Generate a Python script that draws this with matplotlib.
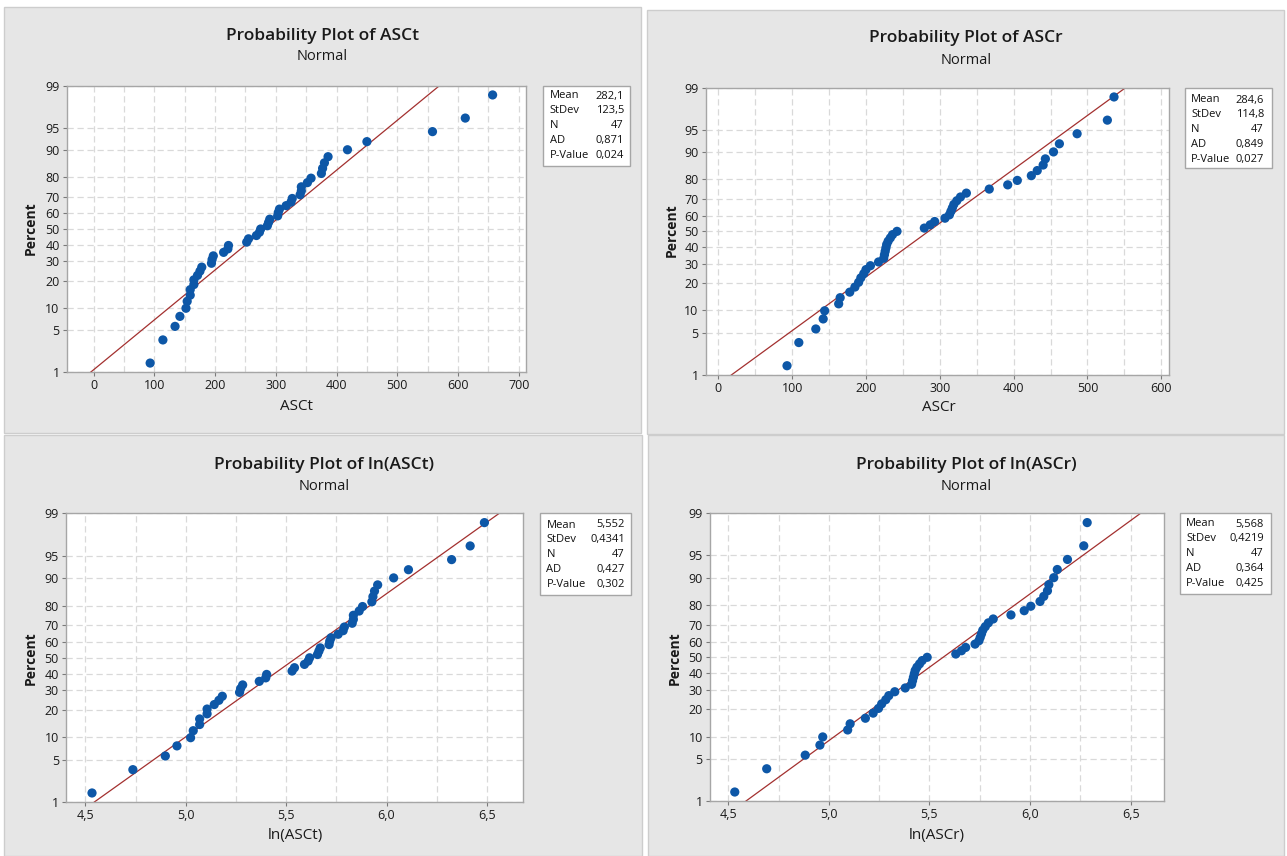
# Probability plots (normal) of ASCt, ASCr and their logs, Minitab style
import numpy as np
import matplotlib.pyplot as plt
from matplotlib.patches import Rectangle
from statistics import NormalDist

plt.rcParams['font.family'] = ['Open Sans', 'DejaVu Sans']

W, H = 1287, 856

asct = [93, 114, 134, 142, 152, 154, 159, 159, 165, 165, 171, 175, 178, 194, 195, 197,
        214, 221, 222, 252, 255, 268, 273, 275, 286, 288, 290, 303, 304, 306, 317, 325,
        327, 340, 342, 342, 352, 358, 375, 377, 380, 386, 418, 450, 558, 612, 657]
ascr = [93, 109, 132, 142, 144, 163, 165, 178, 185, 190, 193, 197, 200, 206, 217, 224,
        225, 226, 227, 228, 230, 233, 236, 242, 279, 287, 293, 307, 313, 315, 317, 319,
        323, 328, 336, 367, 392, 405, 424, 432, 440, 443, 454, 462, 486, 527, 536]

titles = ['Probability Plot of ASCt', 'Probability Plot of ASCr',
          'Probability Plot of ln(ASCt)', 'Probability Plot of ln(ASCr)']
xlabels = ['ASCt', 'ASCr', 'ln(ASCt)', 'ln(ASCr)']
means = [282.1, 284.6, 5.552, 5.568]
stdevs = [123.5, 114.8, 0.4341, 0.4219]
ns = [47, 47, 47, 47]
ads = [0.871, 0.849, 0.427, 0.364]
pvals = [0.024, 0.027, 0.302, 0.425]
mean_dec = [1, 1, 3, 3]
sd_dec = [1, 1, 4, 4]

pct_ticks = [1, 5, 10, 20, 30, 40, 50, 60, 70, 80, 90, 95, 99]
xticks_raw = [0, 100, 200, 300, 400, 500, 600, 700]
xticks_ln = [4.5, 5.0, 5.5, 6.0, 6.5]

# pixel layout: panel box, axes box (left, top, right, bottom)
panels = [(4, 7, 641, 433), (647, 10, 1284, 434), (4, 435, 642, 856), (648, 435, 1284, 856)]
axboxes = [(66.6, 85.7, 526, 372.3), (705.6, 87.7, 1169, 375),
           (65.8, 513.3, 523, 802.3), (709.7, 513.3, 1164, 801.3)]
xlims = [(-44.6, 712), (-17.3, 610.5), (4.402, 6.680), (4.408, 6.666)]
statboxes = [(543, 86, 630, 166, 549.5, 624, 96),
             (1185, 88, 1272, 168, 1191, 1264, 100),
             (540, 513, 631, 595, 546.5, 625, 525),
             (1180, 513, 1271, 594, 1186, 1264, 524)]
title_pos = [(322, 36, 57), (966, 38.5, 61), (324, 464.5, 486.5), (966, 464.5, 486)]
ylab_pos = [(31, 228), (672, 230), (31, 658), (675, 658)]
xlab_pos = [(297, 407), (939, 408), (295, 836), (937, 836)]


def fx(x):
    return x / W


def fy(y):
    return 1 - y / H


def comma(v, d):
    return f"{v:.{d}f}".replace('.', ',')


nd = NormalDist()
fig = plt.figure(figsize=(W / 100, H / 100), dpi=100)
fig.patch.set_facecolor('white')

datasets = [asct, ascr, list(np.log(asct)), list(np.log(ascr))]

for k in range(4):
    l, t, r, b = panels[k]
    fig.patches.append(Rectangle((fx(l), fy(b)), (r - l) / W, (b - t) / H,
                                 transform=fig.transFigure, fc='#e6e6e6',
                                 ec='#cdcdcd', lw=1, zorder=-10))
    al, at, ar, ab = axboxes[k]
    ax = fig.add_axes([fx(al), fy(ab), (ar - al) / W, (ab - at) / H])
    ax.set_zorder(5)
    ax.set_facecolor('white')

    vals = np.sort(datasets[k])
    n = len(vals)
    p = (np.arange(1, n + 1) - 0.3) / (n + 0.4)
    z = np.array([nd.inv_cdf(pp) for pp in p])
    zl = np.array([nd.inv_cdf(0.01), nd.inv_cdf(0.99)])

    ax.plot(means[k] + stdevs[k] * zl, zl, color='#a3302f', lw=0.9, zorder=2)
    ax.scatter(vals, z, s=44, color='#0d57a7', edgecolors='none', zorder=3)

    ax.set_ylim(zl)
    ax.set_yticks([nd.inv_cdf(v / 100) for v in pct_ticks])
    ax.set_yticklabels([str(v) for v in pct_ticks])

    ax.set_xlim(xlims[k])
    if k < 2:
        ticks = xticks_raw if k == 0 else xticks_raw[:-1]
        ax.set_xticks(ticks)
        ax.set_xticklabels([str(v) for v in ticks])
        ax.set_xticks(np.arange(50, ticks[-1], 100), minor=True)
    else:
        ax.set_xticks(xticks_ln)
        ax.set_xticklabels([comma(v, 1) for v in xticks_ln])
        ax.set_xticks(np.arange(4.75, 6.5, 0.5), minor=True)

    ax.grid(which='both', axis='x', color='#d9d9d9', ls=(0, (5, 3)), lw=0.9)
    ax.grid(which='major', axis='y', color='#d9d9d9', ls=(0, (5, 3)), lw=0.9)
    ax.set_axisbelow(True)
    ax.tick_params(which='major', labelsize=9, color='#7a7a7a', length=3,
                   width=0.8, labelcolor='#1a1a1a', pad=2)
    ax.tick_params(which='minor', length=0)
    for s in ax.spines.values():
        s.set_color('#a6a6a6')
        s.set_linewidth(1)

    # titles and axis labels
    cx, ty, sy = title_pos[k]
    fig.text(fx(cx), fy(ty), titles[k], ha='center', va='center',
             fontsize=12.5, fontweight='semibold', color='#1a1a1a')
    fig.text(fx(cx), fy(sy), 'Normal', ha='center', va='center',
             fontsize=10.5, color='#1a1a1a')
    px, py = ylab_pos[k]
    fig.text(fx(px), fy(py), 'Percent', ha='center', va='center', rotation=90,
             fontsize=10, fontweight='bold', color='#1a1a1a')
    qx, qy = xlab_pos[k]
    fig.text(fx(qx), fy(qy), xlabels[k], ha='center', va='center',
             fontsize=11, color='#1a1a1a')

    # stats box
    bl, bt, br, bb, tl, tr, ry = statboxes[k]
    fig.patches.append(Rectangle((fx(bl), fy(bb)), (br - bl) / W, (bb - bt) / H,
                                 transform=fig.transFigure, fc='white',
                                 ec='#a6a6a6', lw=1, zorder=1))
    names = ['Mean', 'StDev', 'N', 'AD', 'P-Value']
    values = [comma(means[k], mean_dec[k]), comma(stdevs[k], sd_dec[k]),
              str(ns[k]), comma(ads[k], 3), comma(pvals[k], 3)]
    for j in range(5):
        yy = ry + j * 14.9
        fig.text(fx(tl), fy(yy), names[j], ha='left', va='center',
                 fontsize=8, color='#111111')
        fig.text(fx(tr), fy(yy), values[j], ha='right', va='center',
                 fontsize=8, color='#111111')

plt.savefig('out.png', dpi=100)
